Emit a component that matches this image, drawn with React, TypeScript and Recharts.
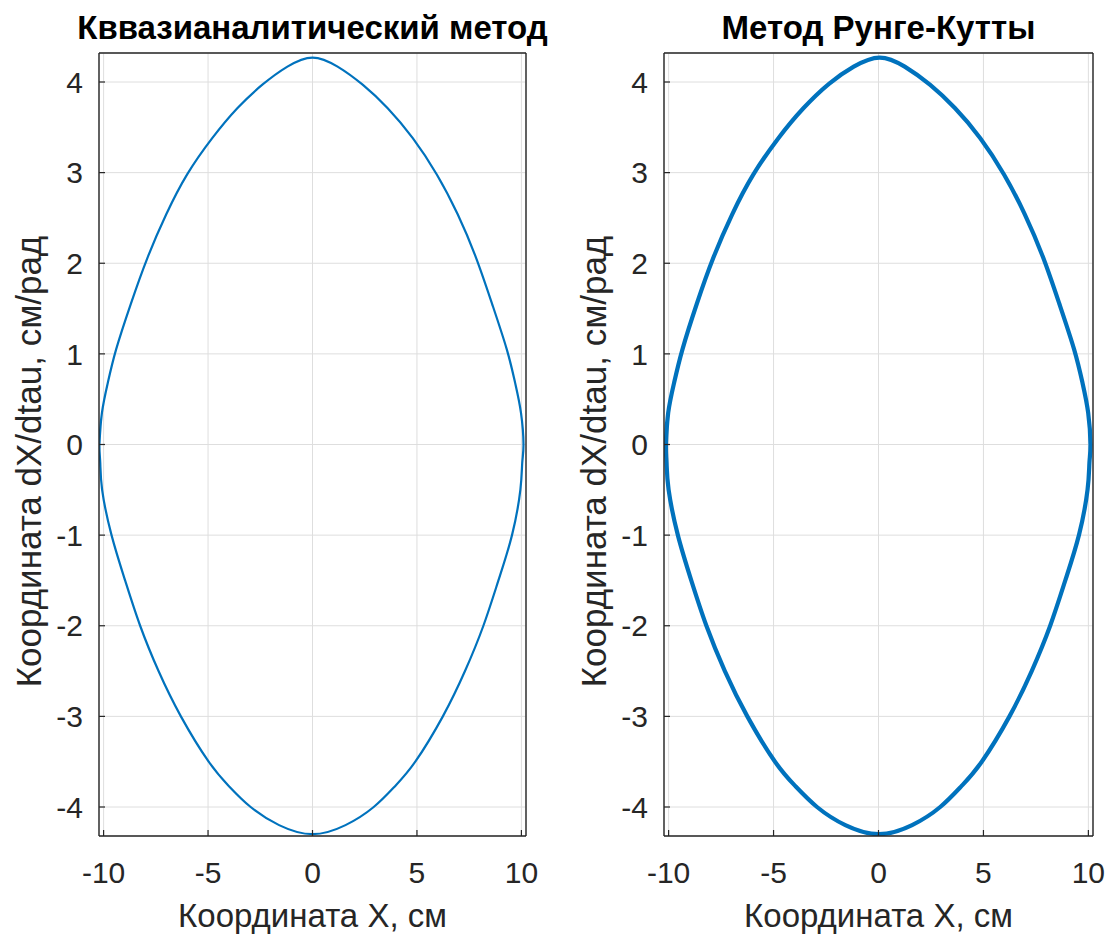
import React from 'react';
import { LineChart, Line, XAxis, YAxis, CartesianGrid } from 'recharts';

// Axis ticks shared by both panels
const X_TICKS = [-10, -5, 0, 5, 10];
const Y_TICKS = [-4, -3, -2, -1, 0, 1, 2, 3, 4];
const X_DOMAIN: [number, number] = [-10.22, 10.22];
const Y_DOMAIN: [number, number] = [-4.32, 4.32];

// Phase trajectory, quasi-analytical solution: X (cm) and dX/dtau (cm/rad),
// traced clockwise from the left turning point (last two points close the loop)
const quasiX = [
  -10.2, -10.08, -9.8, -9.4, -8.7, -7.9, -7.0, -6.0, -4.8, -3.6, -2.4, -1.2, 0,
  1.2, 2.4, 3.6, 4.8, 5.95, 6.95, 7.83, 8.6, 9.3, 9.7, 9.98, 10.1,
  10.04, 9.95, 9.55, 8.9, 8.18, 7.3, 6.24, 4.92, 3.95, 2.93, 1.58, 0,
  -1.6, -2.96, -4.0, -4.97, -6.3, -7.37, -8.25, -8.97, -9.62, -10.07, -10.16, -10.2,
  -10.08, -9.8,
];
const quasiV = [
  0, 0.35, 0.68, 1.05, 1.55, 2.06, 2.54, 2.98, 3.38, 3.71, 3.97, 4.17, 4.27,
  4.17, 3.97, 3.71, 3.38, 2.98, 2.54, 2.06, 1.55, 1.05, 0.68, 0.35, 0,
  -0.2, -0.5, -1.0, -1.5, -2.0, -2.5, -3.0, -3.5, -3.77, -4.0, -4.2, -4.3,
  -4.2, -4.0, -3.77, -3.5, -3.0, -2.5, -2.0, -1.5, -1.0, -0.5, -0.2, 0,
  0.35, 0.68,
];

// Phase trajectory, Runge-Kutta integration
const rkX = [
  -10.13, -10.02, -9.74, -9.34, -8.66, -7.87, -6.97, -5.96, -4.77, -3.58, -2.36, -1.18, 0.05,
  1.25, 2.45, 3.65, 4.85, 5.98, 6.97, 7.85, 8.62, 9.32, 9.72, 9.99, 10.1,
  10.05, 9.96, 9.55, 8.9, 8.18, 7.3, 6.24, 4.92, 3.95, 2.94, 1.6, 0.02,
  -1.58, -2.93, -3.96, -4.93, -6.25, -7.32, -8.2, -8.92, -9.56, -10.0, -10.1, -10.13,
  -10.02, -9.74,
];
const rkV = [
  0, 0.35, 0.68, 1.05, 1.55, 2.06, 2.54, 2.98, 3.38, 3.71, 3.98, 4.17, 4.27,
  4.17, 3.97, 3.71, 3.38, 2.98, 2.54, 2.06, 1.55, 1.05, 0.68, 0.35, 0,
  -0.2, -0.5, -1.0, -1.5, -2.0, -2.5, -3.0, -3.5, -3.77, -4.0, -4.2, -4.3,
  -4.2, -4.0, -3.77, -3.5, -3.0, -2.5, -2.0, -1.5, -1.0, -0.5, -0.2, 0,
  0.35, 0.68,
];

const X_LABEL = 'Координата X, см';
const Y_LABEL = 'Координата dX/dtau, см/рад';

const FONT = '"Liberation Sans", Arial, Helvetica, sans-serif';
const AXIS = '#262626';
const GRID = '#dedede';
const BLUE = '#0072BD';

// Rotated y-axis caption, baseline placed just left of the tick labels
function YCaption(props: any) {
  const vb = props.viewBox || {};
  const bx = vb.x + 41;
  const cy = vb.y + vb.height / 2 + 17;
  return (
    <text
      x={bx}
      y={cy}
      transform={`rotate(-90, ${bx}, ${cy})`}
      textAnchor="middle"
      fill={AXIS}
      fontSize={35}
      fontFamily={FONT}
    >
      {Y_LABEL}
    </text>
  );
}

type PanelProps = {
  title: string;
  xs: number[];
  vs: number[];
  left: number;
  width: number;
  rightGap: number;
  lineWidth: number;
};

function PhasePanel({ title, xs, vs, left, width, rightGap, lineWidth }: PanelProps) {
  const data = xs.map((x, i) => ({ x, v: vs[i] }));
  const tickStyle = { fill: AXIS, fontSize: 30, fontFamily: FONT };
  const axisLine = { stroke: AXIS, strokeWidth: 1.4 };
  const tickLine = { stroke: AXIS, strokeWidth: 1.2 };
  return (
    <div style={{ position: 'absolute', left, top: 0 }}>
      <LineChart
        width={width}
        height={935}
        data={data}
        margin={{ top: 52, right: 0, bottom: 0, left: 0 }}
      >
        <CartesianGrid stroke={GRID} strokeWidth={1} />
        <XAxis
          dataKey="x"
          type="number"
          domain={X_DOMAIN}
          ticks={X_TICKS}
          interval={0}
          allowDataOverflow
          height={99}
          tickSize={-6}
          tickMargin={32}
          tick={tickStyle}
          axisLine={axisLine}
          tickLine={tickLine}
          label={{
            value: X_LABEL,
            position: 'insideBottom',
            offset: 8,
            fill: AXIS,
            fontSize: 33,
            fontFamily: FONT,
          }}
        />
        <XAxis
          xAxisId="top"
          orientation="top"
          type="number"
          domain={X_DOMAIN}
          ticks={X_TICKS}
          interval={0}
          allowDataOverflow
          height={1}
          tickSize={-6}
          tick={false}
          axisLine={axisLine}
          tickLine={tickLine}
          label={{
            value: title,
            position: 'top',
            offset: 13,
            fill: '#000',
            fontSize: 33,
            fontWeight: 'bold',
            fontFamily: FONT,
          }}
        />
        <YAxis
          type="number"
          domain={Y_DOMAIN}
          ticks={Y_TICKS}
          interval={0}
          allowDataOverflow
          width={99}
          tickSize={-6}
          tickMargin={22}
          tick={tickStyle}
          axisLine={axisLine}
          tickLine={tickLine}
          label={YCaption}
        />
        <YAxis
          yAxisId="right"
          orientation="right"
          type="number"
          domain={Y_DOMAIN}
          ticks={Y_TICKS}
          interval={0}
          allowDataOverflow
          width={rightGap}
          tickSize={-6}
          tick={false}
          axisLine={axisLine}
          tickLine={tickLine}
        />
        <Line
          dataKey="v"
          type="natural"
          stroke={BLUE}
          strokeWidth={lineWidth}
          dot={false}
          activeDot={false}
          isAnimationActive={false}
        />
      </LineChart>
    </div>
  );
}

export default function App() {
  return (
    <div
      style={{
        position: 'absolute',
        left: 0,
        top: 0,
        width: 1111,
        height: 935,
        background: '#fff',
        overflow: 'hidden',
      }}
    >
      <PhasePanel
        title="Кввазианалитический метод"
        xs={quasiX}
        vs={quasiV}
        left={0}
        width={565}
        rightGap={39}
        lineWidth={2.2}
      />
      <PhasePanel
        title="Метод Рунге-Кутты"
        xs={rkX}
        vs={rkV}
        left={565}
        width={546}
        rightGap={18}
        lineWidth={4.2}
      />
    </div>
  );
}
